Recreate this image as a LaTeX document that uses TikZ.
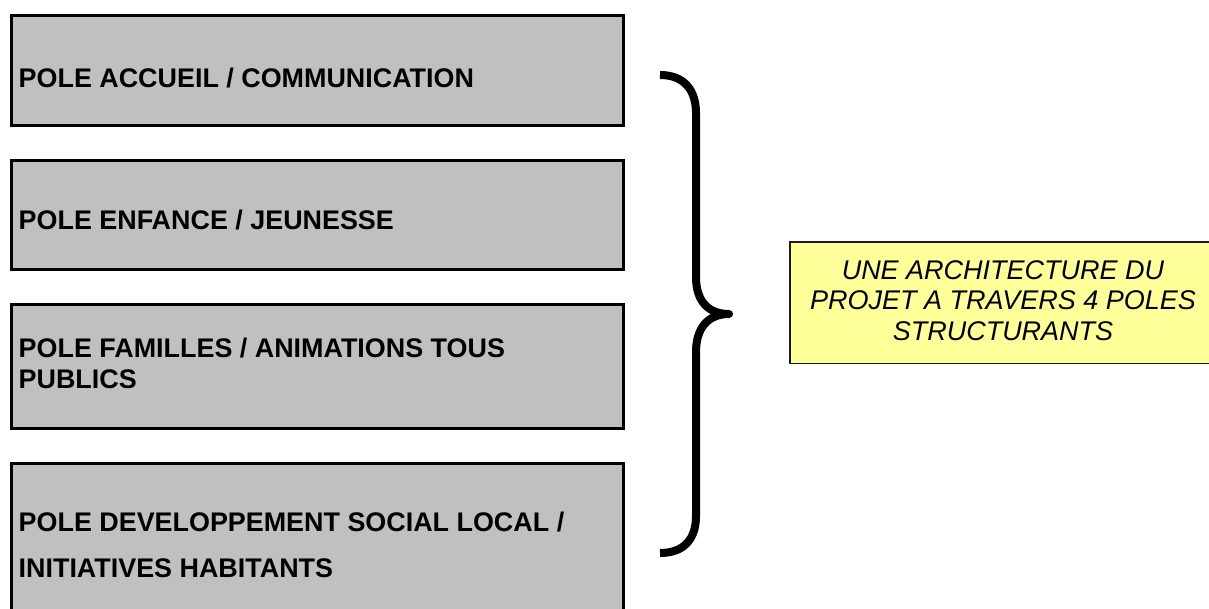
\documentclass[tikz,border=0pt]{standalone}
\usepackage{fontspec}
\setmainfont{Liberation Sans}
\definecolor{polegray}{HTML}{C0C0C0}
\definecolor{noteyellow}{HTML}{FFFF99}
\tikzset{
  polebox/.style={draw=black, line width=3pt, fill=polegray, rectangle, inner sep=0pt},
  poletext/.style={anchor=base west, inner sep=0pt, font=\fontsize{26.9}{30}\selectfont\bfseries},
  notebox/.style={draw=black!90, line width=1.5pt, fill=noteyellow, rectangle, inner sep=0pt},
  notetext/.style={anchor=base, inner sep=0pt, font=\fontsize{27}{30}\selectfont\itshape},
  bracestyle/.style={line width=8pt, line join=round}
}
\begin{document}
\begin{tikzpicture}[x=1pt, y=-1pt]
\useasboundingbox (0,0) rectangle (1209,609);
\clip (0,0) rectangle (1209,609);
\fill[white] (0,0) rectangle (1209,609);
% pole boxes
\node[polebox, minimum width=612pt, minimum height=110.3pt, anchor=north west] (p1) at (9.5,14.2) {};
\node[polebox, minimum width=612pt, minimum height=109pt, anchor=north west] (p2) at (9.5,158.8) {};
\node[polebox, minimum width=612pt, minimum height=123.6pt, anchor=north west] (p3) at (9.5,303.2) {};
\node[polebox, minimum width=612pt, minimum height=200pt, anchor=north west] (p4) at (9.5,462.2) {};
% texts
\node[poletext] (t1) at (18.5,87.3) {POLE ACCUEIL / COMMUNICATION};
\node[poletext] (t2) at (18.5,230) {POLE ENFANCE / JEUNESSE};
\node[poletext] (t3a) at (18.5,357.7) {POLE FAMILLES / ANIMATIONS TOUS};
\node[poletext] (t3b) at (18.5,388.3) {PUBLICS};
\node[poletext] (t4a) at (18.5,531.7) {POLE DEVELOPPEMENT SOCIAL LOCAL /};
\node[poletext] (t4b) at (18.5,577) {INITIATIVES HABITANTS};
% brace
\coordinate (btop) at (660,75);
\coordinate (btip) at (729,314);
\coordinate (bbot) at (660,553);
\draw[bracestyle] (btop) .. controls (684,75) and (696,90) .. (696,113)
  -- (696,277) .. controls (696,301) and (708,314) .. (btip)
  .. controls (708,314) and (696,328) .. (696,352)
  -- (696,516) .. controls (696,539) and (684,553) .. (bbot);
% note box
\node[notebox, minimum width=440pt, minimum height=121.1pt, anchor=north west] (note) at (789,241.5) {};
\node[notetext] (n1) at (1003,279.3) {UNE ARCHITECTURE DU};
\node[notetext] (n2) at (1003,310) {PROJET A TRAVERS 4 POLES};
\node[notetext] (n3) at (1003,340.5) {STRUCTURANTS};
\end{tikzpicture}
\end{document}
